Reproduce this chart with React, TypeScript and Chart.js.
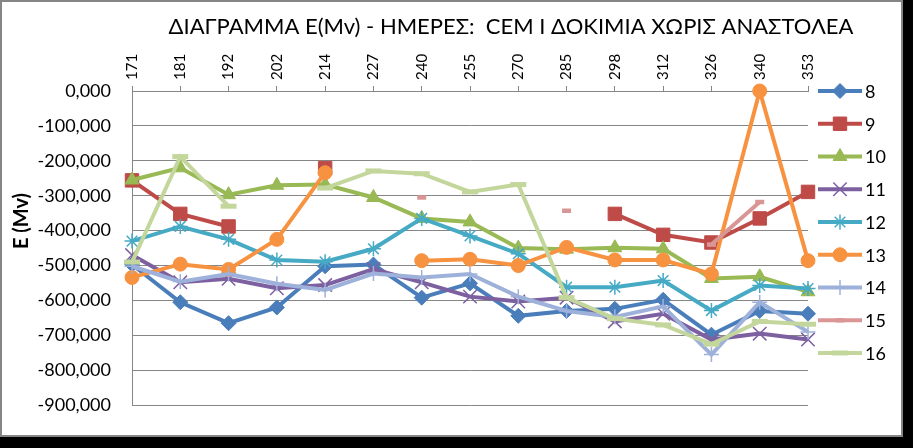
import React, { useEffect, useRef } from 'react';
import { Chart, registerables } from 'chart.js';
import { drawPoint } from 'chart.js/helpers';

Chart.register(...registerables);

const TITLE = 'ΔΙΑΓΡΑΜΜΑ E(Mv) - ΗΜΕΡΕΣ:  CEM I ΔΟΚΙΜΙΑ ΧΩΡΙΣ ΑΝΑΣΤΟΛΕΑ';
const Y_TITLE = 'E (Mv)';

const categories = ['171', '181', '192', '202', '214', '227', '240', '255', '270', '285', '298', '312', '326', '340', '353'];
const seriesNames = ['8', '9', '10', '11', '12', '13', '14', '15', '16'];

const s8 = [-497, -605, -665, -620, -502, -497, -592, -551, -644, -630, -624, -598, -698, -630, -638];
const s9 = [-256, -352, -388, null, -221, null, null, null, null, null, -352, -412, -434, -365, -289];
const s10 = [-255, -220, -297, -270, -268, -305, -365, -375, -450, -453, -449, -452, -537, -532, -575];
const s11 = [-470, -548, -538, -565, -556, -510, -548, -589, -603, -592, -660, -638, -712, -695, -712];
const s12 = [-430, -388, -425, -484, -489, -452, -365, -415, -466, -562, -562, -543, -629, -557, -566];
const s13 = [-534, -496, -511, -425, -234, null, -486, -482, -500, -448, -484, -484, -524, 0, -486];
const s14 = [-502, -546, -524, -552, -570, -523, -534, -524, -589, -630, -647, -617, -755, -605, -690];
const s15 = [null, null, null, null, null, null, -305, null, null, -343, null, null, -440, -318, null];
const s16 = [-490, -188, -330, null, -278, -229, -237, -289, -268, -592, -652, -670, -725, -660, -668];

const seriesValues = [s8, s9, s10, s11, s12, s13, s14, s15, s16];

const Y_MIN = -900;
const Y_MAX = 0;
const Y_STEP = 100;

const colors = ['#4A7EBB', '#BE4B48', '#98B954', '#7D60A0', '#46AAC5', '#F69240', '#9DB1DA', '#D99694', '#C3D69B'];
const pointStyles = ['rectRot', 'rect', 'triangle', 'crossRot', 'star', 'circle', 'cross', 'line', 'line'];
const pointRadii = [7.5, 9.5, 8, 9.5, 7.5, 7, 7.5, 4.5, 8];
const pointBorderWidths = [1, 1, 1, 1.5, 1.5, 1, 1.5, 4.5, 5];

const FONT = 'Lato';
const GRID = '#868686';

const decorPlugin = {
  id: 'decor',
  afterDraw(chart: any) {
    const ctx = chart.ctx as CanvasRenderingContext2D;
    ctx.save();
    ctx.fillStyle = '#000';
    ctx.font = `22px ${FONT}`;
    ctx.textAlign = 'center';
    ctx.textBaseline = 'middle';
    ctx.fillText(TITLE, 511, 27);
    ctx.restore();

    // category labels along the top axis, placed by the x scale
    const xs = chart.scales.x;
    const labelBase = xs.bottom - 11;
    categories.forEach((c, i) => {
      const px = xs.getPixelForValue(i);
      ctx.save();
      ctx.fillStyle = '#000';
      ctx.font = `15px ${FONT}`;
      ctx.translate(px, labelBase);
      ctx.rotate(-Math.PI / 2);
      ctx.textAlign = 'left';
      ctx.textBaseline = 'middle';
      ctx.fillText(c, 0, 0);
      ctx.restore();
    });

    ctx.save();
    ctx.fillStyle = '#000';
    ctx.translate(22, 221);
    ctx.rotate(-Math.PI / 2);
    ctx.font = `bold 20px ${FONT}`;
    ctx.textAlign = 'center';
    ctx.textBaseline = 'middle';
    ctx.fillText(Y_TITLE, 0, 0);
    ctx.restore();

    // legend
    const x0 = 818;
    const x1 = 862;
    chart.data.datasets.forEach((ds: any, i: number) => {
      const y = 91 + i * 32.75;
      ctx.save();
      ctx.strokeStyle = ds.borderColor;
      ctx.lineWidth = 4;
      ctx.lineCap = 'butt';
      ctx.beginPath();
      ctx.moveTo(x0, y);
      ctx.lineTo(x1, y);
      ctx.stroke();
      ctx.fillStyle = ds.pointBackgroundColor;
      ctx.strokeStyle = ds.pointBorderColor;
      ctx.lineWidth = ds.pointBorderWidth;
      drawPoint(ctx, {
        pointStyle: ds.pointStyle,
        radius: ds.pointRadius,
        rotation: 0,
        borderWidth: ds.pointBorderWidth,
      } as any, (x0 + x1) / 2, y);
      ctx.fillStyle = '#000';
      ctx.font = `18px ${FONT}`;
      ctx.textAlign = 'left';
      ctx.textBaseline = 'middle';
      ctx.fillText(ds.label, 865, y + 1);
      ctx.restore();
    });
  },
};

export default function App() {
  const canvasRef = useRef<HTMLCanvasElement | null>(null);

  useEffect(() => {
    const canvas = canvasRef.current;
    if (!canvas) return;
    const datasets = seriesValues.map((vals, i) => ({
      label: seriesNames[i],
      data: vals,
      borderColor: colors[i],
      backgroundColor: colors[i],
      borderWidth: 4,
      pointStyle: pointStyles[i],
      pointRadius: pointRadii[i],
      pointHoverRadius: pointRadii[i],
      pointBackgroundColor: colors[i],
      pointBorderColor: colors[i],
      pointBorderWidth: pointBorderWidths[i],
      tension: 0,
      spanGaps: false,
      clip: false as any,
      order: -i,
    }));

    const chart = new Chart(canvas, {
      type: 'line',
      data: { labels: categories, datasets: datasets as any },
      options: {
        responsive: false,
        animation: false,
        devicePixelRatio: 1,
        layout: { padding: { left: 0, top: 0, right: 95, bottom: 16 } },
        plugins: {
          legend: { display: false },
          title: { display: false },
          tooltip: { enabled: false },
        },
        scales: {
          x: {
            type: 'category',
            position: 'top',
            offset: false,
            grid: {
              display: true,
              drawOnChartArea: false,
              drawTicks: true,
              tickLength: 5,
              color: GRID,
            },
            border: { display: true, color: GRID },
            ticks: {
              display: false,
              autoSkip: false,
            },
            afterFit: (scale: any) => {
              scale.height = 91;
            },
          },
          y: {
            min: Y_MIN,
            max: Y_MAX,
            grid: { color: GRID, drawTicks: false, lineWidth: 1 },
            border: { display: true, color: GRID },
            ticks: {
              stepSize: Y_STEP,
              padding: 21,
              color: '#000',
              font: { family: FONT, size: 18 },
              callback: (v: any) => Number(v).toFixed(3).replace('.', ','),
            },
            afterFit: (scale: any) => {
              scale.width = 132;
            },
          },
        },
      },
      plugins: [decorPlugin],
    });
    return () => chart.destroy();
  }, []);

  return (
    <div style={{ position: 'absolute', left: 0, top: 0, width: 913, height: 448, background: '#000' }}>
      <div
        style={{
          position: 'absolute',
          left: 0,
          top: 0,
          width: 903,
          height: 437,
          background: '#fff',
          border: `2px solid ${GRID}`,
          boxSizing: 'border-box',
        }}
      />
      <canvas
        ref={canvasRef}
        width={903}
        height={437}
        style={{ position: 'absolute', left: 0, top: 0, width: 903, height: 437 }}
      />
    </div>
  );
}
